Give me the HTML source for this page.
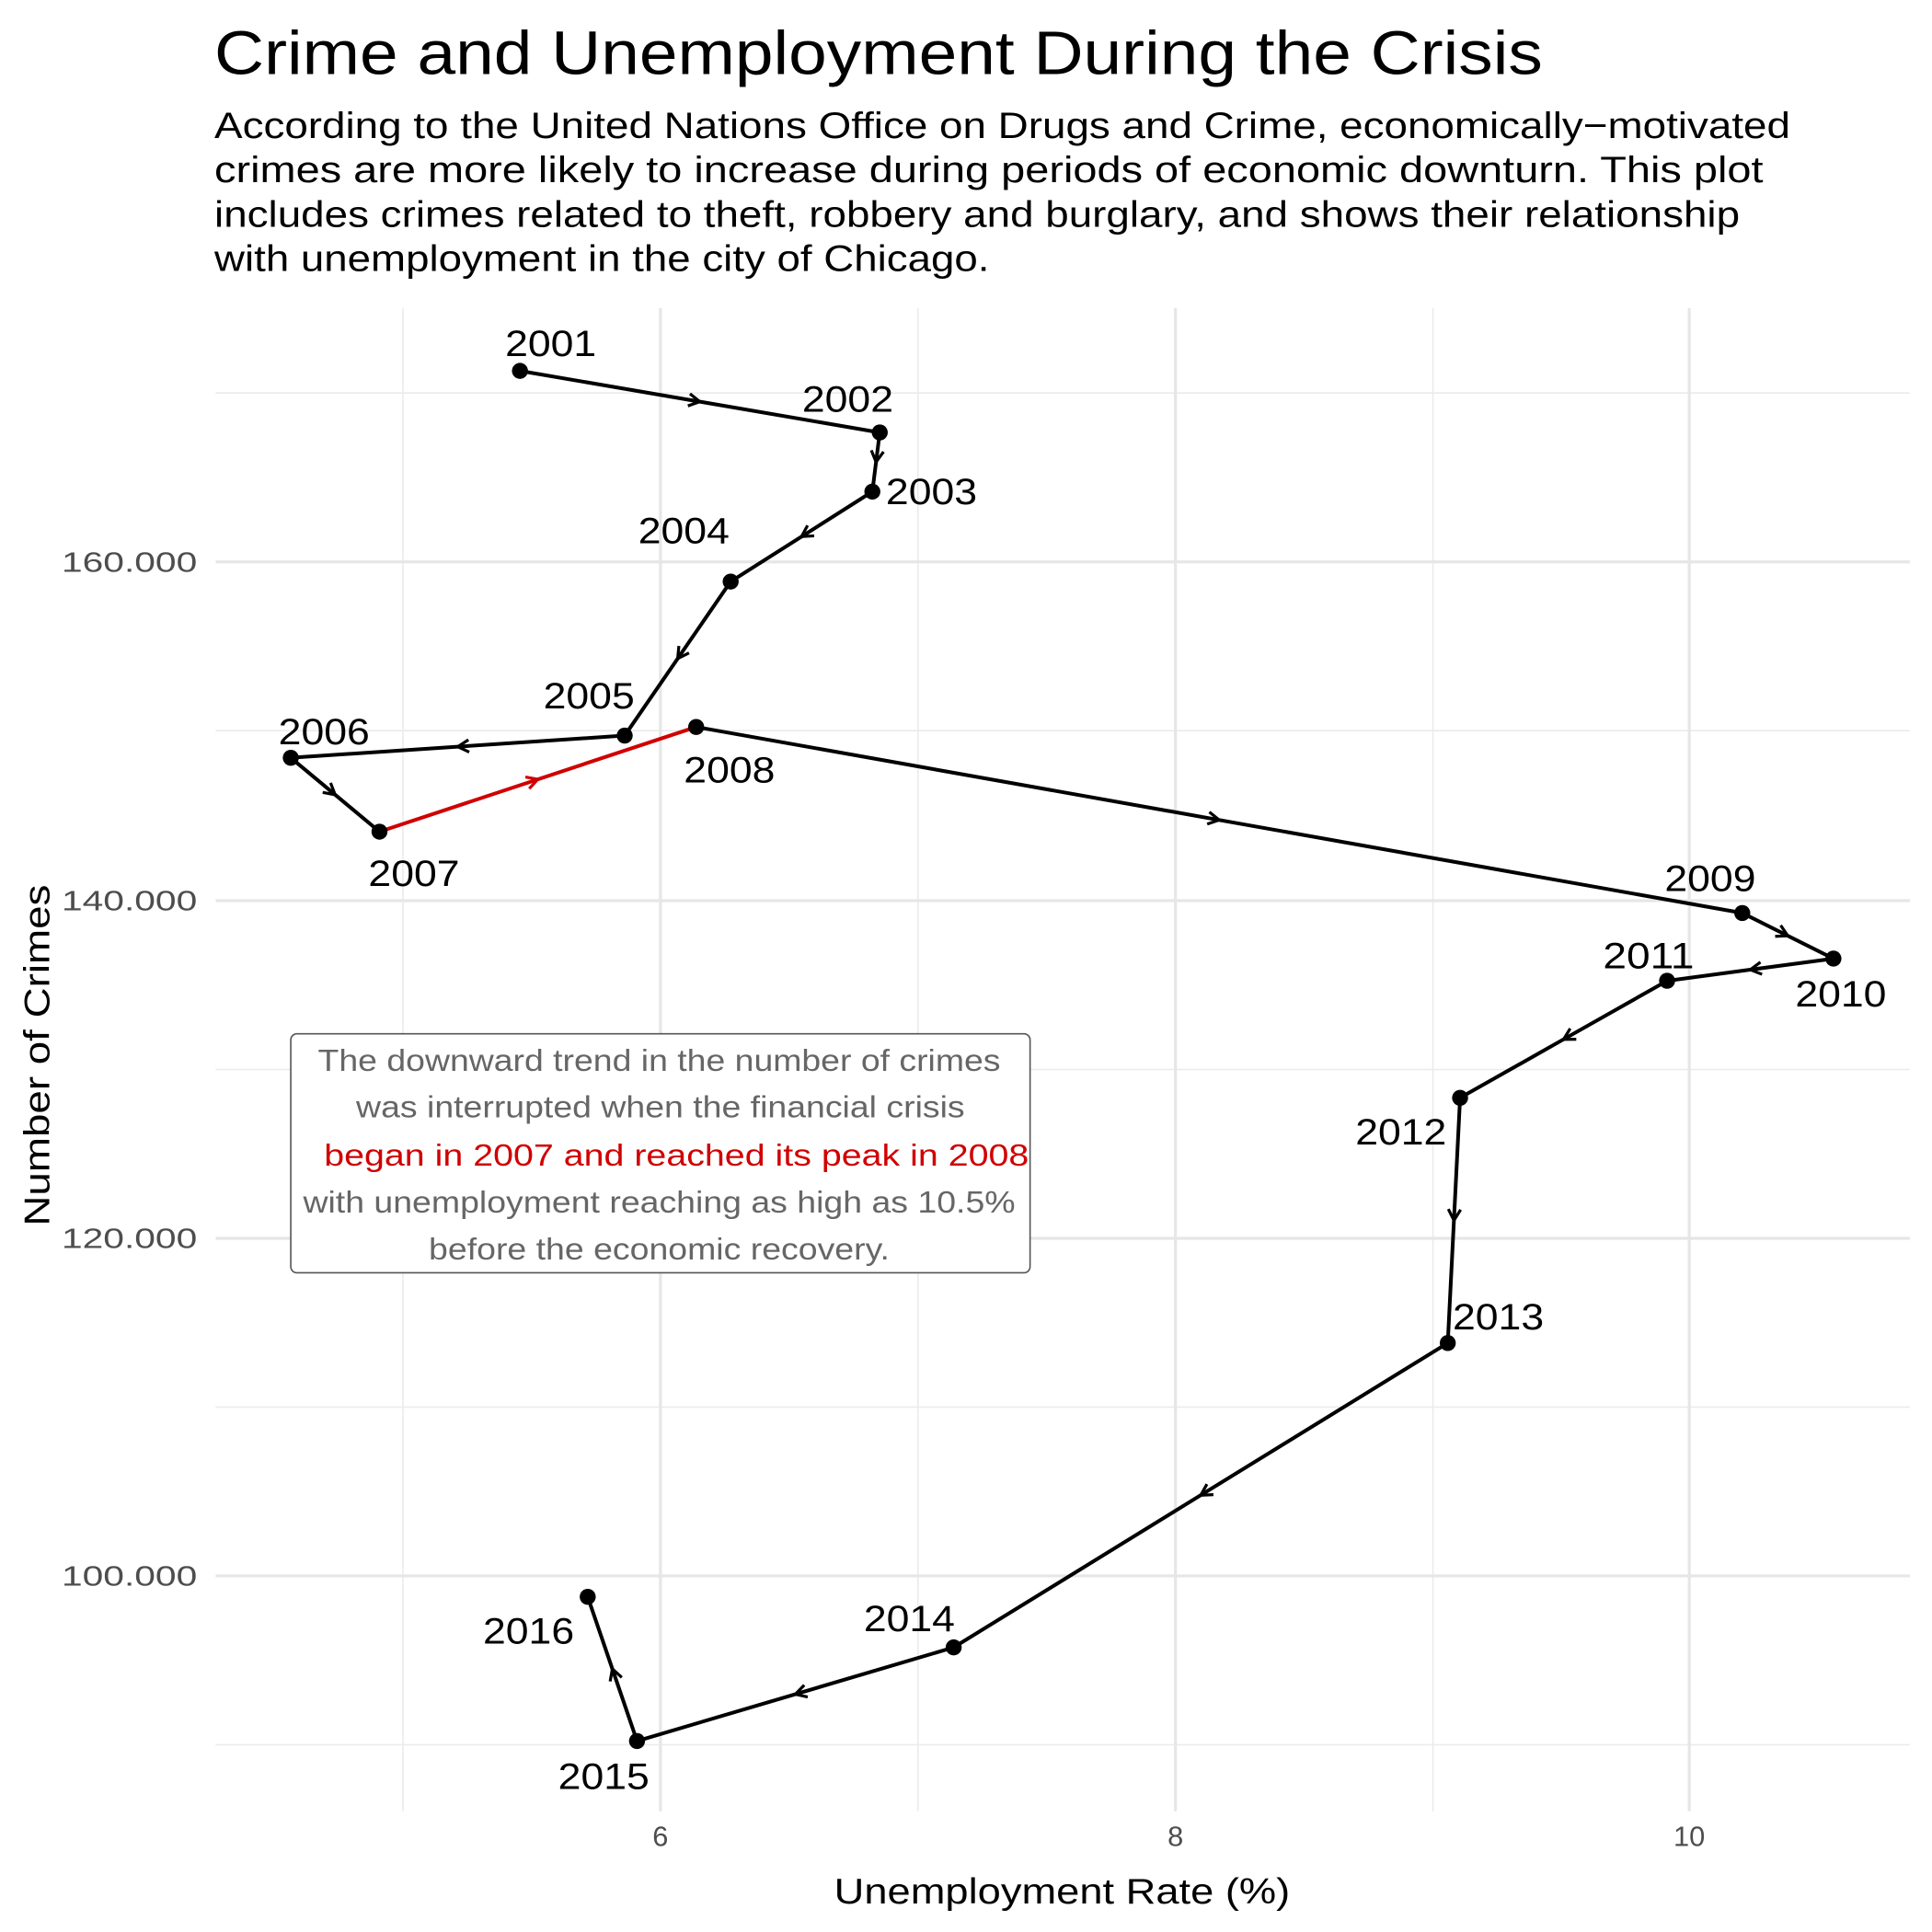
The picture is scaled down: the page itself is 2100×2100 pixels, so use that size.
<!DOCTYPE html>
<html><head><meta charset="utf-8"><style>
html,body{margin:0;padding:0;background:#fff;}
svg{display:block;}
text{font-family:"Liberation Sans",sans-serif;}
</style></head><body>
<svg width="2100" height="2100" viewBox="0 0 1568 1568" xmlns="http://www.w3.org/2000/svg">
<defs>
<marker id="ab" markerUnits="userSpaceOnUse" markerWidth="20" markerHeight="20" viewBox="-10 -10 20 20" refX="0" refY="0" orient="auto"><path d="M-9,-5 L0,0 L-9,5" fill="none" stroke="#000" stroke-width="2.4"/></marker>
<marker id="ar" markerUnits="userSpaceOnUse" markerWidth="20" markerHeight="20" viewBox="-10 -10 20 20" refX="0" refY="0" orient="auto"><path d="M-9,-5 L0,0 L-9,5" fill="none" stroke="#d00000" stroke-width="2.4"/></marker>
</defs>
<rect width="1568" height="1568" fill="#fff"/>
<g stroke="#ebebeb" stroke-width="1.2">
<line x1="327" y1="250" x2="327" y2="1470"/><line x1="745" y1="250" x2="745" y2="1470"/><line x1="1163" y1="250" x2="1163" y2="1470"/>
<line x1="175" y1="319" x2="1550" y2="319"/><line x1="175" y1="593" x2="1550" y2="593"/><line x1="175" y1="868" x2="1550" y2="868"/><line x1="175" y1="1142" x2="1550" y2="1142"/><line x1="175" y1="1416" x2="1550" y2="1416"/>
</g>
<g stroke="#e6e6e6" stroke-width="2.4">
<line x1="536" y1="250" x2="536" y2="1470"/><line x1="954" y1="250" x2="954" y2="1470"/><line x1="1371" y1="250" x2="1371" y2="1470"/>
<line x1="175" y1="456" x2="1550" y2="456"/><line x1="175" y1="731" x2="1550" y2="731"/><line x1="175" y1="1005" x2="1550" y2="1005"/><line x1="175" y1="1279" x2="1550" y2="1279"/>
</g>
<text x="174" y="60" font-size="50" textLength="1078" lengthAdjust="spacingAndGlyphs">Crime and Unemployment During the Crisis</text>
<g font-size="30">
<text x="174" y="112" textLength="1279" lengthAdjust="spacingAndGlyphs">According to the United Nations Office on Drugs and Crime, economically−motivated</text>
<text x="174" y="148" textLength="1257" lengthAdjust="spacingAndGlyphs">crimes are more likely to increase during periods of economic downturn. This plot</text>
<text x="174" y="184" textLength="1238" lengthAdjust="spacingAndGlyphs">includes crimes related to theft, robbery and burglary, and shows their relationship</text>
<text x="174" y="220" textLength="629" lengthAdjust="spacingAndGlyphs">with unemployment in the city of Chicago.</text>
</g>
<g font-size="23" fill="#4d4d4d" text-anchor="end">
<text x="160" y="464" textLength="110" lengthAdjust="spacingAndGlyphs">160.000</text><text x="160" y="739" textLength="110" lengthAdjust="spacingAndGlyphs">140.000</text><text x="160" y="1013" textLength="110" lengthAdjust="spacingAndGlyphs">120.000</text><text x="160" y="1287" textLength="110" lengthAdjust="spacingAndGlyphs">100.000</text>
</g>
<g font-size="23" fill="#4d4d4d" text-anchor="middle">
<text x="536" y="1498">6</text><text x="954" y="1498">8</text><text x="1371" y="1498">10</text>
</g>
<text x="677" y="1545" font-size="29" textLength="370" lengthAdjust="spacingAndGlyphs">Unemployment Rate (%)</text>
<text transform="translate(40,995) rotate(-90)" font-size="29" textLength="277" lengthAdjust="spacingAndGlyphs">Number of Crimes</text>
<g fill="none" stroke="#000" stroke-width="3" marker-mid="url(#ab)">
<polyline points="422,301 568,326 714,351"/>
<polyline points="714,351 711,375 708,399"/>
<polyline points="708,399 650.5,435.5 593,472"/>
<polyline points="593,472 550,534.5 507,597"/>
<polyline points="507,597 371.5,606 236,615"/>
<polyline points="236,615 272,645 308,675"/>
<polyline points="565,590 989.5,665.5 1414,741"/>
<polyline points="1414,741 1451,759.5 1488,778"/>
<polyline points="1488,778 1420.5,787 1353,796"/>
<polyline points="1353,796 1269,843.5 1185,891"/>
<polyline points="1185,891 1180,990.5 1175,1090"/>
<polyline points="1175,1090 974.5,1213.5 774,1337"/>
<polyline points="774,1337 645.5,1375 517,1413"/>
<polyline points="517,1413 497,1354.5 477,1296"/>
</g>
<polyline points="308,675 436.5,632.5 565,590" fill="none" stroke="#d00000" stroke-width="3" marker-mid="url(#ar)"/>
<g fill="#000">
<circle cx="422" cy="301" r="6.5"/><circle cx="714" cy="351" r="6.5"/><circle cx="708" cy="399" r="6.5"/><circle cx="593" cy="472" r="6.5"/><circle cx="507" cy="597" r="6.5"/><circle cx="236" cy="615" r="6.5"/><circle cx="308" cy="675" r="6.5"/><circle cx="565" cy="590" r="6.5"/><circle cx="1414" cy="741" r="6.5"/><circle cx="1488" cy="778" r="6.5"/><circle cx="1353" cy="796" r="6.5"/><circle cx="1185" cy="891" r="6.5"/><circle cx="1175" cy="1090" r="6.5"/><circle cx="774" cy="1337" r="6.5"/><circle cx="517" cy="1413" r="6.5"/><circle cx="477" cy="1296" r="6.5"/>
</g>
<g font-size="30" text-anchor="middle">
<text x="447" y="289" textLength="74" lengthAdjust="spacingAndGlyphs">2001</text>
<text x="688" y="334" textLength="74" lengthAdjust="spacingAndGlyphs">2002</text>
<text x="756" y="409" textLength="74" lengthAdjust="spacingAndGlyphs">2003</text>
<text x="555" y="441" textLength="74" lengthAdjust="spacingAndGlyphs">2004</text>
<text x="478" y="575" textLength="74" lengthAdjust="spacingAndGlyphs">2005</text>
<text x="263" y="604" textLength="74" lengthAdjust="spacingAndGlyphs">2006</text>
<text x="336" y="719" textLength="74" lengthAdjust="spacingAndGlyphs">2007</text>
<text x="592" y="635" textLength="74" lengthAdjust="spacingAndGlyphs">2008</text>
<text x="1388" y="723" textLength="74" lengthAdjust="spacingAndGlyphs">2009</text>
<text x="1494" y="817" textLength="74" lengthAdjust="spacingAndGlyphs">2010</text>
<text x="1338" y="786" textLength="74" lengthAdjust="spacingAndGlyphs">2011</text>
<text x="1137" y="929" textLength="74" lengthAdjust="spacingAndGlyphs">2012</text>
<text x="1216" y="1079" textLength="74" lengthAdjust="spacingAndGlyphs">2013</text>
<text x="738" y="1324" textLength="74" lengthAdjust="spacingAndGlyphs">2014</text>
<text x="490" y="1452" textLength="74" lengthAdjust="spacingAndGlyphs">2015</text>
<text x="429" y="1334" textLength="74" lengthAdjust="spacingAndGlyphs">2016</text>
</g>
<rect x="236" y="839" width="600" height="194" rx="5" fill="#fff" stroke="#555" stroke-width="1.2"/>
<g font-size="25" fill="#666">
<text x="258" y="869" textLength="554" lengthAdjust="spacingAndGlyphs">The downward trend in the number of crimes</text>
<text x="289" y="907" textLength="494" lengthAdjust="spacingAndGlyphs">was interrupted when the financial crisis</text>
<text x="263" y="946" fill="#d00000" textLength="572" lengthAdjust="spacingAndGlyphs">began in 2007 and reached its peak in 2008</text>
<text x="246" y="984" textLength="578" lengthAdjust="spacingAndGlyphs">with unemployment reaching as high as 10.5%</text>
<text x="348" y="1022" textLength="374" lengthAdjust="spacingAndGlyphs">before the economic recovery.</text>
</g>
</svg>
</body></html>
